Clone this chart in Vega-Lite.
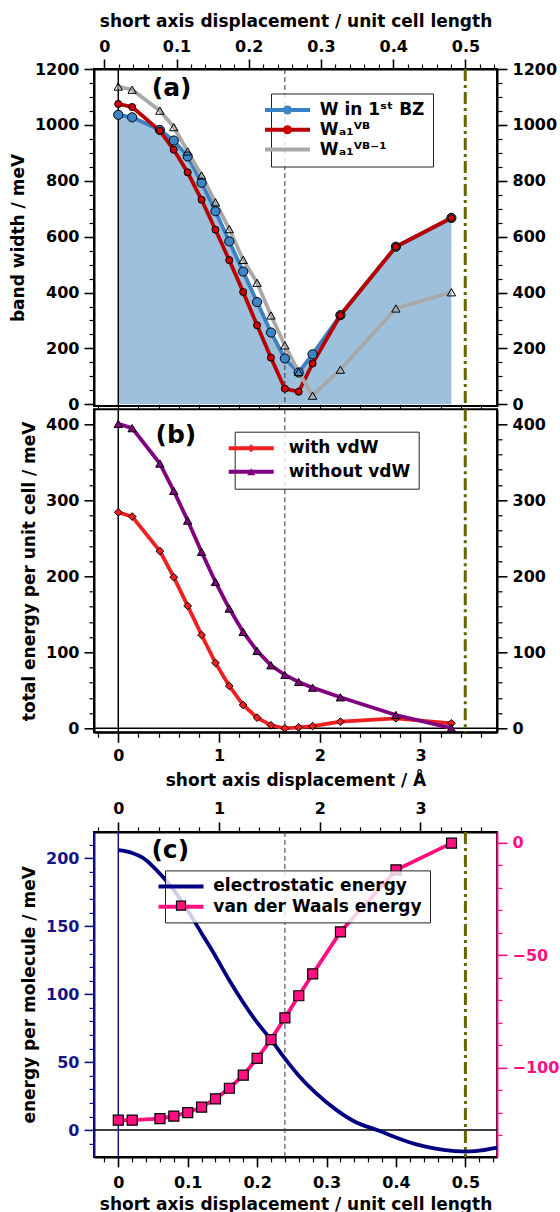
{
  "$schema": "https://vega.github.io/schema/vega-lite/v6.json",
  "background": "white",
  "padding": {"left": 8, "top": 11, "right": 2, "bottom": 0},
  "bounds": "flush",
  "spacing": 3.3,
  "resolve": {
    "scale": {"stroke": "independent", "fill": "independent", "shape": "independent", "color": "independent"},
    "legend": {"stroke": "independent", "fill": "independent", "shape": "independent"}
  },
  "vconcat": [
    {
      "width": 403,
      "height": 337,
      "layer": [
        {
          "data": {"values": [
            {"uc": 0, "d": 0, "series": "W in 1ˢᵗ BZ", "w": 1036},
            {"uc": 0.02, "d": 0.138, "series": "W in 1ˢᵗ BZ", "w": 1027},
            {"uc": 0.06, "d": 0.413, "series": "W in 1ˢᵗ BZ", "w": 982},
            {"uc": 0.08, "d": 0.551, "series": "W in 1ˢᵗ BZ", "w": 944},
            {"uc": 0.10, "d": 0.689, "series": "W in 1ˢᵗ BZ", "w": 887},
            {"uc": 0.12, "d": 0.827, "series": "W in 1ˢᵗ BZ", "w": 793},
            {"uc": 0.14, "d": 0.965, "series": "W in 1ˢᵗ BZ", "w": 691},
            {"uc": 0.16, "d": 1.102, "series": "W in 1ˢᵗ BZ", "w": 583},
            {"uc": 0.18, "d": 1.240, "series": "W in 1ˢᵗ BZ", "w": 475},
            {"uc": 0.20, "d": 1.378, "series": "W in 1ˢᵗ BZ", "w": 366},
            {"uc": 0.22, "d": 1.516, "series": "W in 1ˢᵗ BZ", "w": 257},
            {"uc": 0.24, "d": 1.654, "series": "W in 1ˢᵗ BZ", "w": 164},
            {"uc": 0.26, "d": 1.791, "series": "W in 1ˢᵗ BZ", "w": 114},
            {"uc": 0.28, "d": 1.929, "series": "W in 1ˢᵗ BZ", "w": 179},
            {"uc": 0.32, "d": 2.205, "series": "W in 1ˢᵗ BZ", "w": 319},
            {"uc": 0.40, "d": 2.756, "series": "W in 1ˢᵗ BZ", "w": 564},
            {"uc": 0.48, "d": 3.307, "series": "W in 1ˢᵗ BZ", "w": 667},
            {"uc": 0, "d": 0, "series": "Wₐ₁ⱽᴮ", "w": 1075},
            {"uc": 0.02, "d": 0.138, "series": "Wₐ₁ⱽᴮ", "w": 1064},
            {"uc": 0.06, "d": 0.413, "series": "Wₐ₁ⱽᴮ", "w": 979},
            {"uc": 0.08, "d": 0.551, "series": "Wₐ₁ⱽᴮ", "w": 911},
            {"uc": 0.10, "d": 0.689, "series": "Wₐ₁ⱽᴮ", "w": 830},
            {"uc": 0.12, "d": 0.827, "series": "Wₐ₁ⱽᴮ", "w": 732},
            {"uc": 0.14, "d": 0.965, "series": "Wₐ₁ⱽᴮ", "w": 625},
            {"uc": 0.16, "d": 1.102, "series": "Wₐ₁ⱽᴮ", "w": 516},
            {"uc": 0.18, "d": 1.240, "series": "Wₐ₁ⱽᴮ", "w": 402},
            {"uc": 0.20, "d": 1.378, "series": "Wₐ₁ⱽᴮ", "w": 283},
            {"uc": 0.22, "d": 1.516, "series": "Wₐ₁ⱽᴮ", "w": 167},
            {"uc": 0.24, "d": 1.654, "series": "Wₐ₁ⱽᴮ", "w": 56},
            {"uc": 0.26, "d": 1.791, "series": "Wₐ₁ⱽᴮ", "w": 45},
            {"uc": 0.28, "d": 1.929, "series": "Wₐ₁ⱽᴮ", "w": 146},
            {"uc": 0.32, "d": 2.205, "series": "Wₐ₁ⱽᴮ", "w": 319},
            {"uc": 0.40, "d": 2.756, "series": "Wₐ₁ⱽᴮ", "w": 564},
            {"uc": 0.48, "d": 3.307, "series": "Wₐ₁ⱽᴮ", "w": 667},
            {"uc": 0, "d": 0, "series": "Wₐ₁ⱽᴮ⁻¹", "w": 1137},
            {"uc": 0.02, "d": 0.138, "series": "Wₐ₁ⱽᴮ⁻¹", "w": 1126},
            {"uc": 0.06, "d": 0.413, "series": "Wₐ₁ⱽᴮ⁻¹", "w": 1051},
            {"uc": 0.08, "d": 0.551, "series": "Wₐ₁ⱽᴮ⁻¹", "w": 992},
            {"uc": 0.10, "d": 0.689, "series": "Wₐ₁ⱽᴮ⁻¹", "w": 905},
            {"uc": 0.12, "d": 0.827, "series": "Wₐ₁ⱽᴮ⁻¹", "w": 819},
            {"uc": 0.14, "d": 0.965, "series": "Wₐ₁ⱽᴮ⁻¹", "w": 723},
            {"uc": 0.16, "d": 1.102, "series": "Wₐ₁ⱽᴮ⁻¹", "w": 627},
            {"uc": 0.18, "d": 1.240, "series": "Wₐ₁ⱽᴮ⁻¹", "w": 517},
            {"uc": 0.20, "d": 1.378, "series": "Wₐ₁ⱽᴮ⁻¹", "w": 435},
            {"uc": 0.22, "d": 1.516, "series": "Wₐ₁ⱽᴮ⁻¹", "w": 318},
            {"uc": 0.24, "d": 1.654, "series": "Wₐ₁ⱽᴮ⁻¹", "w": 211},
            {"uc": 0.26, "d": 1.791, "series": "Wₐ₁ⱽᴮ⁻¹", "w": 116},
            {"uc": 0.28, "d": 1.929, "series": "Wₐ₁ⱽᴮ⁻¹", "w": 31},
            {"uc": 0.32, "d": 2.205, "series": "Wₐ₁ⱽᴮ⁻¹", "w": 124},
            {"uc": 0.40, "d": 2.756, "series": "Wₐ₁ⱽᴮ⁻¹", "w": 343},
            {"uc": 0.48, "d": 3.307, "series": "Wₐ₁ⱽᴮ⁻¹", "w": 401}
          ]},
          "layer": [
            {
              "transform": [{"filter": "datum.series === 'W in 1ˢᵗ BZ'"}],
              "mark": {"type": "area", "color": "#9dc0dc", "opacity": 1},
              "encoding": {
                "x": {"field": "d", "type": "quantitative", "scale": {"domain": [-0.241, 3.76], "nice": false, "zero": false}, "axis": null},
                "y": {"field": "w", "type": "quantitative", "scale": {"domain": [-6, 1200], "nice": false, "zero": false},
                  "axis": {"orient": "left", "title": "band width / meV", "format": "~r",
                    "values": [0,50,100,150,200,250,300,350,400,450,500,550,600,650,700,750,800,850,900,950,1000,1050,1100,1150,1200],
                    "tickDash": {"condition": {"test": "datum.value % 200 === 0", "value": [20, 0]}, "value": [5, 20]},
                    "tickWidth": {"condition": {"test": "datum.value % 200 === 0", "value": 1.6}, "value": 1.2},
                    "labelExpr": "datum.value % 200 === 0 ? datum.label : ''"}},
                "y2": {"datum": 0}
              }
            },
            {
              "data": {"values": [{}]},
              "mark": {"type": "rule", "color": "black", "strokeWidth": 1.5},
              "encoding": {"x": {"datum": 0, "type": "quantitative", "axis": null}}
            },
            {
              "data": {"values": [{}]},
              "mark": {"type": "rule", "color": "#333333", "strokeWidth": 1, "strokeDash": [5, 3]},
              "encoding": {"x": {"datum": 1.654, "type": "quantitative", "axis": null}}
            },
            {
              "data": {"values": [{}]},
              "mark": {"type": "rule", "color": "#666600", "strokeWidth": 3, "strokeDash": [12, 4, 3, 4]},
              "encoding": {"x": {"datum": 3.445, "type": "quantitative", "axis": null}}
            },
            {
              "mark": {"type": "line", "strokeWidth": 3.8},
              "encoding": {
                "x": {"field": "d", "type": "quantitative", "axis": null},
                "y": {"field": "w", "type": "quantitative",
                  "axis": {"orient": "right", "title": null, "format": "~r",
                    "values": [0,50,100,150,200,250,300,350,400,450,500,550,600,650,700,750,800,850,900,950,1000,1050,1100,1150,1200],
                    "tickDash": {"condition": {"test": "datum.value % 200 === 0", "value": [20, 0]}, "value": [5, 20]},
                    "tickWidth": {"condition": {"test": "datum.value % 200 === 0", "value": 1.6}, "value": 1.2},
                    "labelExpr": "datum.value % 200 === 0 ? datum.label : ''"}},
                "stroke": {"field": "series", "type": "nominal", "scale": {"range": ["#3a80c2", "#b80000", "#a8a8a8"]},
                  "legend": {"orient": "none", "legendX": 177, "legendY": 24.5, "title": null, "direction": "vertical",
                    "symbolType": "M-5,0H5", "symbolSize": 81, "symbolStrokeWidth": 4, "symbolFillColor": "transparent",
                    "labelFont": "DejaVu Sans", "labelFontSize": 17, "labelFontWeight": "bold", "labelColor": "black", "labelLimit": 400,
                    "labelOffset": 23.8, "rowPadding": 1.8, "padding": 8,
                    "fillColor": "rgba(255,255,255,0.8)", "strokeColor": "#222222", "zindex": 1}}
              }
            },
            {
              "transform": [{"filter": "datum.series === 'W in 1ˢᵗ BZ'"}],
              "mark": {"type": "point", "filled": true, "stroke": "black", "strokeWidth": 1, "opacity": 1, "size": 85},
              "encoding": {
                "x": {"field": "d", "type": "quantitative", "axis": null},
                "y": {"field": "w", "type": "quantitative", "axis": null},
                "fill": {"field": "series", "type": "nominal", "scale": {"domain": ["W in 1ˢᵗ BZ", "Wₐ₁ⱽᴮ", "Wₐ₁ⱽᴮ⁻¹"], "range": ["#3d85c6", "#cc0000", "rgba(0,0,0,0)"]},
                  "legend": {"orient": "none", "legendX": 177, "legendY": 24.5, "title": null, "direction": "vertical",
                    "symbolSize": 81, "symbolStrokeWidth": 1, "symbolStrokeColor": "black",
                    "labelFont": "DejaVu Sans", "labelFontSize": 17, "labelFontWeight": "bold", "labelLimit": 400, "labelOpacity": 0,
                    "labelOffset": 23.8, "rowPadding": 1.8, "padding": 8, "zindex": 2}},
                "shape": {"field": "series", "type": "nominal", "scale": {"domain": ["W in 1ˢᵗ BZ", "Wₐ₁ⱽᴮ", "Wₐ₁ⱽᴮ⁻¹"], "range": ["circle", "circle", "triangle-up"]},
                  "legend": {"orient": "none", "legendX": 177, "legendY": 24.5, "title": null, "direction": "vertical",
                    "symbolSize": 81, "symbolStrokeWidth": 1, "symbolStrokeColor": "black",
                    "labelFont": "DejaVu Sans", "labelFontSize": 17, "labelFontWeight": "bold", "labelLimit": 400, "labelOpacity": 0,
                    "labelOffset": 23.8, "rowPadding": 1.8, "padding": 8, "zindex": 2}}
              }
            },
            {
              "transform": [{"filter": "datum.series === 'Wₐ₁ⱽᴮ'"}],
              "mark": {"type": "point", "filled": true, "stroke": "black", "strokeWidth": 1, "opacity": 1, "size": 50},
              "encoding": {
                "x": {"field": "d", "type": "quantitative", "axis": null},
                "y": {"field": "w", "type": "quantitative", "axis": null},
                "fill": {"field": "series", "type": "nominal"},
                "shape": {"field": "series", "type": "nominal"}
              }
            },
            {
              "transform": [{"filter": "datum.series === 'Wₐ₁ⱽᴮ⁻¹'"}],
              "mark": {"type": "point", "filled": true, "stroke": "black", "strokeWidth": 1, "opacity": 1, "size": 70},
              "encoding": {
                "x": {"field": "d", "type": "quantitative", "axis": null},
                "y": {"field": "w", "type": "quantitative", "axis": null},
                "fill": {"field": "series", "type": "nominal"},
                "shape": {"field": "series", "type": "nominal"}
              }
            },
            {
              "data": {"values": [{"label": "(a)"}]},
              "mark": {"type": "text", "font": "DejaVu Sans", "fontSize": 25, "fontWeight": "bold", "align": "center", "baseline": "middle", "color": "black"},
              "encoding": {
                "x": {"datum": 0.53, "type": "quantitative", "axis": null},
                "y": {"datum": 1131, "type": "quantitative", "axis": null},
                "text": {"field": "label", "type": "nominal"}
              }
            }
          ],
          "resolve": {"axis": {"y": "independent"}}
        },
        {
          "data": {"values": [{}]},
          "mark": {"type": "point", "opacity": 0},
          "encoding": {
            "x": {"datum": 0.25, "type": "quantitative", "scale": {"domain": [-0.01425, 0.5437], "nice": false, "zero": false},
              "axis": {"orient": "top", "title": "short axis displacement / unit cell length", "titlePadding": 8, "format": "~r",
                "values": [0,0.02,0.04,0.06,0.08,0.1,0.12,0.14,0.16,0.18,0.2,0.22,0.24,0.26,0.28,0.3,0.32,0.34,0.36,0.38,0.4,0.42,0.44,0.46,0.48,0.5,0.52,0.54],
                "tickDash": {"condition": {"test": "abs(datum.value*10 - round(datum.value*10)) < 0.001", "value": [20, 0]}, "value": [5, 20]},
                "tickWidth": {"condition": {"test": "abs(datum.value*10 - round(datum.value*10)) < 0.001", "value": 1.6}, "value": 1.2},
                "labelExpr": "abs(datum.value*10 - round(datum.value*10)) < 0.001 ? datum.label : ''"}}
          }
        }
      ],
      "resolve": {"scale": {"x": "independent"}, "axis": {"x": "independent", "y": "independent"}}
    },
    {
      "width": 403,
      "height": 323,
      "data": {"values": [
        {"d": 0, "series": "with vdW", "e": 284},
        {"d": 0.138, "series": "with vdW", "e": 278.5},
        {"d": 0.413, "series": "with vdW", "e": 233},
        {"d": 0.551, "series": "with vdW", "e": 198.7},
        {"d": 0.689, "series": "with vdW", "e": 161},
        {"d": 0.827, "series": "with vdW", "e": 122.8},
        {"d": 0.965, "series": "with vdW", "e": 86},
        {"d": 1.102, "series": "with vdW", "e": 55.7},
        {"d": 1.240, "series": "with vdW", "e": 30.7},
        {"d": 1.378, "series": "with vdW", "e": 14},
        {"d": 1.516, "series": "with vdW", "e": 4},
        {"d": 1.654, "series": "with vdW", "e": 0},
        {"d": 1.791, "series": "with vdW", "e": 1.3},
        {"d": 1.929, "series": "with vdW", "e": 3},
        {"d": 2.205, "series": "with vdW", "e": 8.8},
        {"d": 2.756, "series": "with vdW", "e": 13.2},
        {"d": 3.307, "series": "with vdW", "e": 6.6},
        {"d": 0, "series": "without vdW", "e": 400.4},
        {"d": 0.138, "series": "without vdW", "e": 394.7},
        {"d": 0.413, "series": "without vdW", "e": 348.2},
        {"d": 0.551, "series": "without vdW", "e": 312.3},
        {"d": 0.689, "series": "without vdW", "e": 273.2},
        {"d": 0.827, "series": "without vdW", "e": 232},
        {"d": 0.965, "series": "without vdW", "e": 192.5},
        {"d": 1.102, "series": "without vdW", "e": 157.5},
        {"d": 1.240, "series": "without vdW", "e": 126.8},
        {"d": 1.378, "series": "without vdW", "e": 101.8},
        {"d": 1.516, "series": "without vdW", "e": 82.9},
        {"d": 1.654, "series": "without vdW", "e": 70.2},
        {"d": 1.791, "series": "without vdW", "e": 61},
        {"d": 1.929, "series": "without vdW", "e": 53.5},
        {"d": 2.205, "series": "without vdW", "e": 40.8},
        {"d": 2.756, "series": "without vdW", "e": 17.5},
        {"d": 3.307, "series": "without vdW", "e": 0.4}
      ]},
      "layer": [
        {
          "data": {"values": [{}]},
          "mark": {"type": "rule", "color": "black", "strokeWidth": 1.5},
          "encoding": {"y": {"datum": 0, "type": "quantitative", "axis": null}}
        },
        {
          "data": {"values": [{}]},
          "mark": {"type": "rule", "color": "black", "strokeWidth": 1.5},
          "encoding": {"x": {"datum": 0, "type": "quantitative", "axis": null}}
        },
        {
          "data": {"values": [{}]},
          "mark": {"type": "rule", "color": "#333333", "strokeWidth": 1, "strokeDash": [5, 3]},
          "encoding": {"x": {"datum": 1.654, "type": "quantitative", "axis": null}}
        },
        {
          "data": {"values": [{}]},
          "mark": {"type": "rule", "color": "#666600", "strokeWidth": 3, "strokeDash": [12, 4, 3, 4]},
          "encoding": {"x": {"datum": 3.445, "type": "quantitative", "axis": null}}
        },
        {
          "mark": {"type": "line", "strokeWidth": 3.8},
          "encoding": {
            "x": {"field": "d", "type": "quantitative", "scale": {"domain": [-0.241, 3.76], "nice": false, "zero": false},
              "axis": {"orient": "bottom", "title": "short axis displacement / Å", "titlePadding": 9, "format": "~r",
                "values": [-0.2,0,0.2,0.4,0.6,0.8,1,1.2,1.4,1.6,1.8,2,2.2,2.4,2.6,2.8,3,3.2,3.4,3.6],
                "tickDash": {"condition": {"test": "abs(datum.value - round(datum.value)) < 0.001", "value": [20, 0]}, "value": [5, 20]},
                "tickWidth": {"condition": {"test": "abs(datum.value - round(datum.value)) < 0.001", "value": 1.6}, "value": 1.2},
                "labelExpr": "abs(datum.value - round(datum.value)) < 0.001 ? datum.label : ''"}},
            "y": {"field": "e", "type": "quantitative", "scale": {"domain": [-5.2, 419.5], "nice": false, "zero": false},
              "axis": {"orient": "left", "title": "total energy per unit cell / meV", "format": "~r",
                "values": [0,20,40,60,80,100,120,140,160,180,200,220,240,260,280,300,320,340,360,380,400],
                "tickDash": {"condition": {"test": "datum.value % 100 === 0", "value": [20, 0]}, "value": [5, 20]},
                "tickWidth": {"condition": {"test": "datum.value % 100 === 0", "value": 1.6}, "value": 1.2},
                "labelExpr": "datum.value % 100 === 0 ? datum.label : ''"}},
            "stroke": {"field": "series", "type": "nominal", "scale": {"range": ["#ee2020", "#800080"]},
              "legend": {"orient": "none", "legendX": 140.7, "legendY": 22.4, "title": null, "direction": "vertical",
                "symbolType": "M-5,0H5", "symbolSize": 81, "symbolStrokeWidth": 4, "symbolFillColor": "transparent",
                "labelFont": "DejaVu Sans", "labelFontSize": 17, "labelFontWeight": "bold", "labelColor": "black", "labelLimit": 400,
                "labelOffset": 29, "rowPadding": 5.6, "padding": 8,
                "fillColor": "rgba(255,255,255,0.8)", "strokeColor": "#222222", "zindex": 1}}
          }
        },
        {
          "transform": [{"filter": "datum.series === 'with vdW'"}],
          "mark": {"type": "point", "filled": true, "stroke": "black", "strokeWidth": 1, "opacity": 1, "size": 60},
          "encoding": {
            "x": {"field": "d", "type": "quantitative",
              "axis": {"orient": "top", "title": null, "labels": false, "domain": false, "tickSize": 5,
                "values": [-0.2,0,0.2,0.4,0.6,0.8,1,1.2,1.4,1.6,1.8,2,2.2,2.4,2.6,2.8,3,3.2,3.4,3.6]}},
            "y": {"field": "e", "type": "quantitative",
              "axis": {"orient": "right", "title": null, "format": "~r",
                "values": [0,20,40,60,80,100,120,140,160,180,200,220,240,260,280,300,320,340,360,380,400],
                "tickDash": {"condition": {"test": "datum.value % 100 === 0", "value": [20, 0]}, "value": [5, 20]},
                "tickWidth": {"condition": {"test": "datum.value % 100 === 0", "value": 1.6}, "value": 1.2},
                "labelExpr": "datum.value % 100 === 0 ? datum.label : ''"}},
            "fill": {"field": "series", "type": "nominal", "scale": {"domain": ["with vdW", "without vdW"], "range": ["#ee2020", "#800080"]},
              "legend": {"orient": "none", "legendX": 140.7, "legendY": 22.4, "title": null, "direction": "vertical",
                "symbolSize": 64, "symbolStrokeWidth": 1, "symbolStrokeColor": "black",
                "labelFont": "DejaVu Sans", "labelFontSize": 17, "labelFontWeight": "bold", "labelLimit": 400, "labelOpacity": 0,
                "labelOffset": 29, "rowPadding": 5.6, "padding": 8, "zindex": 2}},
            "shape": {"field": "series", "type": "nominal", "scale": {"domain": ["with vdW", "without vdW"], "range": ["diamond", "triangle-up"]},
              "legend": {"orient": "none", "legendX": 140.7, "legendY": 22.4, "title": null, "direction": "vertical",
                "symbolSize": 64, "symbolStrokeWidth": 1, "symbolStrokeColor": "black",
                "labelFont": "DejaVu Sans", "labelFontSize": 17, "labelFontWeight": "bold", "labelLimit": 400, "labelOpacity": 0,
                "labelOffset": 29, "rowPadding": 5.6, "padding": 8, "zindex": 2}}
          }
        },
        {
          "transform": [{"filter": "datum.series === 'without vdW'"}],
          "mark": {"type": "point", "filled": true, "stroke": "black", "strokeWidth": 1, "opacity": 1, "size": 70},
          "encoding": {
            "x": {"field": "d", "type": "quantitative", "axis": null},
            "y": {"field": "e", "type": "quantitative", "axis": null},
            "fill": {"field": "series", "type": "nominal"},
            "shape": {"field": "series", "type": "nominal"}
          }
        },
        {
          "data": {"values": [{"label": "(b)"}]},
          "mark": {"type": "text", "font": "DejaVu Sans", "fontSize": 25, "fontWeight": "bold", "align": "center", "baseline": "middle", "color": "black"},
          "encoding": {
            "x": {"datum": 0.572, "type": "quantitative", "axis": null},
            "y": {"datum": 386, "type": "quantitative", "axis": null},
            "text": {"field": "label", "type": "nominal"}
          }
        }
      ],
      "resolve": {"axis": {"x": "independent", "y": "independent"}}
    },
    {
      "width": 403,
      "height": 92.4,
      "data": {"values": [{}]},
      "mark": {"type": "point", "opacity": 0},
      "view": {"stroke": null}
    },
    {
      "width": 403,
      "height": 325,
      "layer": [
        {
          "data": {"values": [
            {"uc": 0, "es": 206, "series": "electrostatic energy"},
            {"uc": 0.02, "es": 204, "series": "electrostatic energy"},
            {"uc": 0.035, "es": 200.5, "series": "electrostatic energy"},
            {"uc": 0.049, "es": 194.5, "series": "electrostatic energy"},
            {"uc": 0.063, "es": 187, "series": "electrostatic energy"},
            {"uc": 0.0825, "es": 175, "series": "electrostatic energy"},
            {"uc": 0.102, "es": 160, "series": "electrostatic energy"},
            {"uc": 0.121, "es": 144, "series": "electrostatic energy"},
            {"uc": 0.14, "es": 128, "series": "electrostatic energy"},
            {"uc": 0.159, "es": 111, "series": "electrostatic energy"},
            {"uc": 0.1785, "es": 95, "series": "electrostatic energy"},
            {"uc": 0.198, "es": 80.5, "series": "electrostatic energy"},
            {"uc": 0.22, "es": 66.5, "series": "electrostatic energy"},
            {"uc": 0.241, "es": 52, "series": "electrostatic energy"},
            {"uc": 0.26, "es": 40, "series": "electrostatic energy"},
            {"uc": 0.284, "es": 27.5, "series": "electrostatic energy"},
            {"uc": 0.313, "es": 15.2, "series": "electrostatic energy"},
            {"uc": 0.3416, "es": 5.9, "series": "electrostatic energy"},
            {"uc": 0.375, "es": -0.4, "series": "electrostatic energy"},
            {"uc": 0.399, "es": -5.3, "series": "electrostatic energy"},
            {"uc": 0.428, "es": -10.4, "series": "electrostatic energy"},
            {"uc": 0.457, "es": -13.7, "series": "electrostatic energy"},
            {"uc": 0.4855, "es": -15.5, "series": "electrostatic energy"},
            {"uc": 0.5, "es": -15.9, "series": "electrostatic energy"},
            {"uc": 0.514, "es": -15.6, "series": "electrostatic energy"},
            {"uc": 0.5455, "es": -13, "series": "electrostatic energy"}
          ]},
          "layer": [
            {
              "data": {"values": [{}]},
              "mark": {"type": "rule", "color": "black", "strokeWidth": 1.5},
              "encoding": {"y": {"datum": 0, "type": "quantitative", "axis": null}}
            },
            {
              "data": {"values": [{}]},
              "mark": {"type": "rule", "color": "#141489", "strokeWidth": 1.5},
              "encoding": {"x": {"datum": 0, "type": "quantitative", "axis": null}}
            },
            {
              "data": {"values": [{}]},
              "mark": {"type": "rule", "color": "#333333", "strokeWidth": 1, "strokeDash": [5, 3]},
              "encoding": {"x": {"datum": 0.24, "type": "quantitative", "axis": null}}
            },
            {
              "data": {"values": [{}]},
              "mark": {"type": "rule", "color": "#666600", "strokeWidth": 3, "strokeDash": [12, 4, 3, 4]},
              "encoding": {"x": {"datum": 0.5, "type": "quantitative", "axis": null}}
            },
            {
              "mark": {"type": "line", "strokeWidth": 3.8, "interpolate": "monotone"},
              "encoding": {
                "x": {"field": "uc", "type": "quantitative", "scale": {"domain": [-0.035, 0.5455], "nice": false, "zero": false},
                  "axis": {"orient": "bottom", "title": "short axis displacement / unit cell length", "titlePadding": 6, "labelPadding": 8, "format": "~r",
                    "values": [-0.02,0,0.02,0.04,0.06,0.08,0.1,0.12,0.14,0.16,0.18,0.2,0.22,0.24,0.26,0.28,0.3,0.32,0.34,0.36,0.38,0.4,0.42,0.44,0.46,0.48,0.5,0.52,0.54],
                    "tickDash": {"condition": {"test": "abs(datum.value*10 - round(datum.value*10)) < 0.001", "value": [20, 0]}, "value": [5, 20]},
                    "tickWidth": {"condition": {"test": "abs(datum.value*10 - round(datum.value*10)) < 0.001", "value": 1.6}, "value": 1.2},
                    "labelExpr": "abs(datum.value*10 - round(datum.value*10)) < 0.001 ? datum.label : ''"}},
                "y": {"field": "es", "type": "quantitative", "scale": {"domain": [-19.8, 219.5], "nice": false, "zero": false},
                  "axis": {"orient": "left", "title": "energy per molecule / meV", "format": "~r", "labelColor": "#141489", "tickColor": "#141489", "domainColor": "#141489",
                    "values": [-10,0,10,20,30,40,50,60,70,80,90,100,110,120,130,140,150,160,170,180,190,200,210],
                    "tickDash": {"condition": {"test": "datum.value % 50 === 0", "value": [20, 0]}, "value": [5, 20]},
                    "tickWidth": {"condition": {"test": "datum.value % 50 === 0", "value": 1.6}, "value": 1.2},
                    "labelExpr": "datum.value % 50 === 0 ? datum.label : ''"}},
                "stroke": {"field": "series", "type": "nominal", "scale": {"domain": ["electrostatic energy", "\u00a0van der Waals energy"], "range": ["#000080", "#ff0f80"]},
                  "legend": {"orient": "none", "legendX": 71, "legendY": 38.5, "title": null, "direction": "vertical",
                    "symbolType": "M-5,0H5", "symbolSize": 81, "symbolStrokeWidth": 4, "symbolFillColor": "transparent",
                    "labelFont": "DejaVu Sans", "labelFontSize": 17, "labelFontWeight": "bold", "labelColor": "black", "labelLimit": 400,
                    "labelOffset": 23.8, "rowPadding": 2.3, "padding": 7.5,
                    "fillColor": "rgba(255,255,255,0.8)", "strokeColor": "#222222", "zindex": 1}}
              }
            },
            {
              "data": {"values": [{"label": "(c)"}]},
              "mark": {"type": "text", "font": "DejaVu Sans", "fontSize": 25, "fontWeight": "bold", "align": "center", "baseline": "middle", "color": "black"},
              "encoding": {
                "x": {"datum": 0.0748, "type": "quantitative", "axis": null},
                "y": {"datum": 206.4, "type": "quantitative", "axis": null},
                "text": {"field": "label", "type": "nominal"}
              }
            }
          ],
          "resolve": {"axis": {"x": "independent", "y": "independent"}}
        },
        {
          "data": {"values": [
            {"uc": 0, "vdw": -123.4, "series": "\u00a0van der Waals energy"},
            {"uc": 0.02, "vdw": -123.4, "series": "\u00a0van der Waals energy"},
            {"uc": 0.06, "vdw": -122.7, "series": "\u00a0van der Waals energy"},
            {"uc": 0.08, "vdw": -121.6, "series": "\u00a0van der Waals energy"},
            {"uc": 0.10, "vdw": -120, "series": "\u00a0van der Waals energy"},
            {"uc": 0.12, "vdw": -117.6, "series": "\u00a0van der Waals energy"},
            {"uc": 0.14, "vdw": -113.9, "series": "\u00a0van der Waals energy"},
            {"uc": 0.16, "vdw": -109.2, "series": "\u00a0van der Waals energy"},
            {"uc": 0.18, "vdw": -103.4, "series": "\u00a0van der Waals energy"},
            {"uc": 0.20, "vdw": -95.9, "series": "\u00a0van der Waals energy"},
            {"uc": 0.22, "vdw": -87.6, "series": "\u00a0van der Waals energy"},
            {"uc": 0.24, "vdw": -77.9, "series": "\u00a0van der Waals energy"},
            {"uc": 0.26, "vdw": -68.1, "series": "\u00a0van der Waals energy"},
            {"uc": 0.28, "vdw": -58.4, "series": "\u00a0van der Waals energy"},
            {"uc": 0.32, "vdw": -39.7, "series": "\u00a0van der Waals energy"},
            {"uc": 0.40, "vdw": -12.2, "series": "\u00a0van der Waals energy"},
            {"uc": 0.48, "vdw": -0.3, "series": "\u00a0van der Waals energy"}
          ]},
          "layer": [
            {
              "mark": {"type": "line", "strokeWidth": 3.8},
              "encoding": {
                "x": {"field": "uc", "type": "quantitative", "scale": {"domain": [-0.035, 0.5455], "nice": false, "zero": false}, "axis": null},
                "y": {"field": "vdw", "type": "quantitative", "scale": {"domain": [-139.7, 4.7], "nice": false, "zero": false},
                  "axis": {"orient": "right", "title": null, "format": "~r", "labelColor": "#ff0f80", "tickColor": "#ff0f80", "domainColor": "#ff0f80",
                    "values": [-130,-120,-110,-100,-90,-80,-70,-60,-50,-40,-30,-20,-10,0],
                    "tickDash": {"condition": {"test": "datum.value % 50 === 0", "value": [20, 0]}, "value": [5, 20]},
                    "tickWidth": {"condition": {"test": "datum.value % 50 === 0", "value": 1.6}, "value": 1.2},
                    "labelExpr": "datum.value % 50 === 0 ? datum.label : ''"}},
                "stroke": {"field": "series", "type": "nominal", "scale": {"domain": ["electrostatic energy", "\u00a0van der Waals energy"], "range": ["#000080", "#ff0f80"]},
                  "legend": {"orient": "none", "legendX": 71, "legendY": 38.5, "title": null, "direction": "vertical",
                    "symbolType": "M-5,0H5", "symbolSize": 81, "symbolStrokeWidth": 4, "symbolFillColor": "transparent",
                    "labelFont": "DejaVu Sans", "labelFontSize": 17, "labelFontWeight": "bold", "labelColor": "black", "labelLimit": 400,
                    "labelOffset": 23.8, "rowPadding": 2.3, "padding": 7.5,
                    "fillColor": "rgba(255,255,255,0.8)", "strokeColor": "#222222", "zindex": 1}}
              }
            },
            {
              "mark": {"type": "point", "shape": "square", "filled": true, "stroke": "black", "strokeWidth": 1.2, "size": 100, "opacity": 1},
              "encoding": {
                "x": {"field": "uc", "type": "quantitative", "axis": null},
                "y": {"field": "vdw", "type": "quantitative", "axis": null},
                "fill": {"field": "series", "type": "nominal", "scale": {"domain": ["\u00a0van der Waals energy"], "range": ["#ff0f80"]},
                  "legend": {"orient": "none", "legendX": 71, "legendY": 57.8, "title": null, "direction": "vertical",
                    "symbolType": "square", "symbolSize": 81, "symbolStrokeWidth": 1.2, "symbolStrokeColor": "black",
                    "labelFont": "DejaVu Sans", "labelFontSize": 17, "labelFontWeight": "bold", "labelLimit": 400, "labelOpacity": 0,
                    "labelOffset": 23.8, "rowPadding": 2.3, "padding": 7.5, "zindex": 2}}
              }
            }
          ],
          "resolve": {"axis": {"x": "independent", "y": "independent"}}
        },
        {
          "data": {"values": [{}]},
          "mark": {"type": "point", "opacity": 0},
          "encoding": {
            "x": {"datum": 1, "type": "quantitative", "scale": {"domain": [-0.241, 3.76], "nice": false, "zero": false},
              "axis": {"orient": "top", "title": null, "format": "~r",
                "values": [-0.2,0,0.2,0.4,0.6,0.8,1,1.2,1.4,1.6,1.8,2,2.2,2.4,2.6,2.8,3,3.2,3.4,3.6],
                "tickDash": {"condition": {"test": "abs(datum.value - round(datum.value)) < 0.001", "value": [20, 0]}, "value": [5, 20]},
                "tickWidth": {"condition": {"test": "abs(datum.value - round(datum.value)) < 0.001", "value": 1.6}, "value": 1.2},
                "labelExpr": "abs(datum.value - round(datum.value)) < 0.001 ? datum.label : ''"}}
          }
        }
      ],
      "resolve": {"scale": {"x": "independent", "y": "independent"}, "axis": {"x": "independent", "y": "independent"}}
    }
  ],
  "config": {
    "font": "DejaVu Sans",
    "view": {"stroke": "black", "strokeWidth": 2},
    "axis": {
      "grid": false,
      "labelFont": "DejaVu Sans", "labelFontSize": 16, "labelFontWeight": "bold", "labelColor": "black",
      "titleFont": "DejaVu Sans", "titleFontSize": 17, "titleFontWeight": "bold", "titleColor": "black",
      "domainColor": "black", "domainWidth": 2, "tickColor": "black", "tickSize": 10,
      "labelPadding": 5, "titlePadding": 7, "labelOverlap": false, "labelFlush": false, "labelBound": false
    },
    "text": {"font": "DejaVu Sans"}
  }
}
